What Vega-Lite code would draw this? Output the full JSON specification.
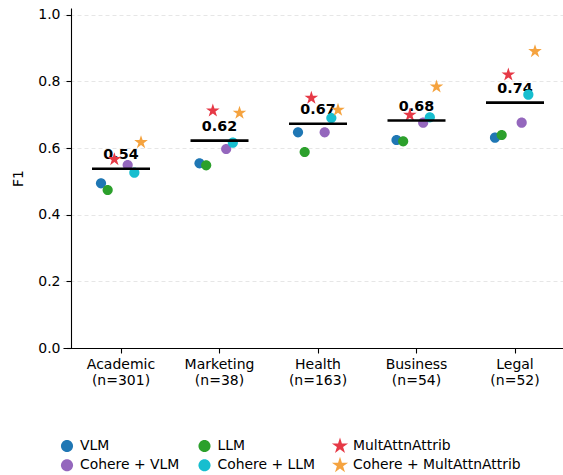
{
  "$schema": "https://vega.github.io/schema/vega-lite/v6.json",
  "width": 500,
  "height": 340,
  "autosize": {"type": "none"},
  "padding": {"left": 63, "top": 8, "right": 0, "bottom": 127},
  "config": {
    "view": {"stroke": null},
    "font": "DejaVu Sans",
    "axis": {
      "labelFont": "DejaVu Sans",
      "labelFontSize": 14,
      "labelColor": "#000000",
      "titleFont": "DejaVu Sans",
      "titleFontSize": 14,
      "titleFontWeight": "normal",
      "titleColor": "#000000",
      "domainColor": "#000000",
      "domainWidth": 1.1,
      "tickColor": "#000000",
      "tickWidth": 1.1,
      "tickSize": 5
    },
    "legend": {
      "labelFont": "DejaVu Sans",
      "labelFontSize": 13.9,
      "labelColor": "#000000",
      "labelLimit": 0
    }
  },
  "data": {
    "values": [
      {"domain": "Academic (n=301)", "method": "VLM", "f1": 0.494},
      {"domain": "Academic (n=301)", "method": "LLM", "f1": 0.474},
      {"domain": "Academic (n=301)", "method": "MultAttnAttrib", "f1": 0.566},
      {"domain": "Academic (n=301)", "method": "Cohere + VLM", "f1": 0.549},
      {"domain": "Academic (n=301)", "method": "Cohere + LLM", "f1": 0.526},
      {"domain": "Academic (n=301)", "method": "Cohere + MultAttnAttrib", "f1": 0.617},
      {"domain": "Marketing (n=38)", "method": "VLM", "f1": 0.554},
      {"domain": "Marketing (n=38)", "method": "LLM", "f1": 0.548},
      {"domain": "Marketing (n=38)", "method": "MultAttnAttrib", "f1": 0.712},
      {"domain": "Marketing (n=38)", "method": "Cohere + VLM", "f1": 0.597},
      {"domain": "Marketing (n=38)", "method": "Cohere + LLM", "f1": 0.616},
      {"domain": "Marketing (n=38)", "method": "Cohere + MultAttnAttrib", "f1": 0.705},
      {"domain": "Health (n=163)", "method": "VLM", "f1": 0.647},
      {"domain": "Health (n=163)", "method": "LLM", "f1": 0.588},
      {"domain": "Health (n=163)", "method": "MultAttnAttrib", "f1": 0.750},
      {"domain": "Health (n=163)", "method": "Cohere + VLM", "f1": 0.647},
      {"domain": "Health (n=163)", "method": "Cohere + LLM", "f1": 0.690},
      {"domain": "Health (n=163)", "method": "Cohere + MultAttnAttrib", "f1": 0.714},
      {"domain": "Business (n=54)", "method": "VLM", "f1": 0.624},
      {"domain": "Business (n=54)", "method": "LLM", "f1": 0.620},
      {"domain": "Business (n=54)", "method": "MultAttnAttrib", "f1": 0.699},
      {"domain": "Business (n=54)", "method": "Cohere + VLM", "f1": 0.676},
      {"domain": "Business (n=54)", "method": "Cohere + LLM", "f1": 0.692},
      {"domain": "Business (n=54)", "method": "Cohere + MultAttnAttrib", "f1": 0.784},
      {"domain": "Legal (n=52)", "method": "VLM", "f1": 0.631},
      {"domain": "Legal (n=52)", "method": "LLM", "f1": 0.639},
      {"domain": "Legal (n=52)", "method": "MultAttnAttrib", "f1": 0.820},
      {"domain": "Legal (n=52)", "method": "Cohere + VLM", "f1": 0.676},
      {"domain": "Legal (n=52)", "method": "Cohere + LLM", "f1": 0.760},
      {"domain": "Legal (n=52)", "method": "Cohere + MultAttnAttrib", "f1": 0.890}
    ]
  },
  "encoding": {
    "x": {
      "field": "domain",
      "type": "nominal",
      "sort": ["Academic (n=301)", "Marketing (n=38)", "Health (n=163)", "Business (n=54)", "Legal (n=52)"],
      "scale": {"paddingInner": 0.0254, "paddingOuter": 0.0508, "align": 1},
      "axis": {
        "title": null,
        "labelAngle": 0,
        "labelExpr": "split(datum.label, ' ')",
        "labelLineHeight": 16.7,
        "labelPadding": 4,
        "grid": false
      }
    }
  },
  "layer": [
    {
      "mark": {"type": "text", "font": "DejaVu Sans", "fontSize": 14.3, "fontWeight": "bold", "color": "#000000", "baseline": "alphabetic", "dy": -10},
      "encoding": {
        "y": {"aggregate": "mean", "field": "f1", "type": "quantitative", "title": "F1"},
        "text": {"aggregate": "mean", "field": "f1", "type": "quantitative", "format": ".2f"}
      }
    },
    {
      "mark": {"type": "point", "filled": true, "size": 205, "opacity": 1, "strokeWidth": 0},
      "encoding": {
        "xOffset": {
          "field": "method",
          "type": "nominal",
          "scale": {"type": "point", "domain": ["VLM", "LLM", "MultAttnAttrib", " ", "Cohere + VLM", "Cohere + LLM", "Cohere + MultAttnAttrib"], "range": [28, 68], "padding": 0}
        },
        "y": {
          "field": "f1",
          "type": "quantitative",
          "title": "F1",
          "scale": {"domain": [0, 1.02], "nice": false, "zero": true},
          "axis": {
            "values": [0, 0.2, 0.4, 0.6, 0.8, 1.0],
            "format": ".1f",
            "offset": -8,
            "labelPadding": 6,
            "titlePadding": 12,
            "grid": true,
            "gridColor": "#e3e3e3",
            "gridDash": [4, 3],
            "gridWidth": 0.9
          }
        },
        "color": {
          "field": "method",
          "type": "nominal",
          "scale": {
            "domain": ["VLM", "LLM", "MultAttnAttrib", "Cohere + VLM", "Cohere + LLM", "Cohere + MultAttnAttrib"],
            "range": ["#1f77b4", "#2ca02c", "#e63946", "#9467bd", "#17becf", "#f5a33f"]
          },
          "legend": {
            "title": null,
            "orient": "none",
            "legendX": -5,
            "legendY": 429,
            "columns": 3,
            "direction": "horizontal",
            "symbolSize": 290,
            "symbolStrokeWidth": 0,
            "symbolOpacity": 1,
            "columnPadding": 15.5,
            "rowPadding": 3.3,
            "labelOffset": 4,
            "labelLimit": 0,
            "padding": 0
          }
        },
        "shape": {
          "field": "method",
          "type": "nominal",
          "scale": {
            "domain": ["VLM", "LLM", "MultAttnAttrib", "Cohere + VLM", "Cohere + LLM", "Cohere + MultAttnAttrib"],
            "range": [
              "M0.71,0A0.71,0.71 0 1,1 -0.71,0A0.71,0.71 0 1,1 0.71,0Z",
              "M0.71,0A0.71,0.71 0 1,1 -0.71,0A0.71,0.71 0 1,1 0.71,0Z",
              "M0,-1L0.2245,-0.309L0.9511,-0.309L0.3633,0.118L0.5878,0.809L0,0.382L-0.5878,0.809L-0.3633,0.118L-0.9511,-0.309L-0.2245,-0.309Z",
              "M0.71,0A0.71,0.71 0 1,1 -0.71,0A0.71,0.71 0 1,1 0.71,0Z",
              "M0.71,0A0.71,0.71 0 1,1 -0.71,0A0.71,0.71 0 1,1 0.71,0Z",
              "M0,-1L0.2245,-0.309L0.9511,-0.309L0.3633,0.118L0.5878,0.809L0,0.382L-0.5878,0.809L-0.3633,0.118L-0.9511,-0.309L-0.2245,-0.309Z"
            ]
          }
        }
      }
    },
    {
      "mark": {"type": "tick", "orient": "horizontal", "size": 58, "thickness": 2.6, "color": "#000000", "opacity": 1},
      "encoding": {
        "y": {"aggregate": "mean", "field": "f1", "type": "quantitative", "title": "F1"}
      }
    }
  ]
}
